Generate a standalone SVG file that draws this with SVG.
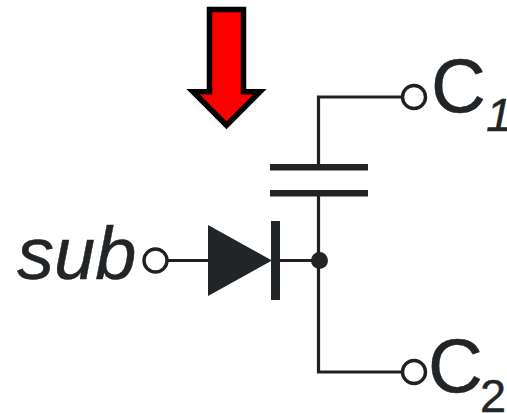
<svg xmlns="http://www.w3.org/2000/svg" width="507" height="413" viewBox="0 0 507 413">
<style>
.w{fill:none;stroke:#231f20;stroke-width:3.2}
.t{fill:#fff;stroke:#231f20;stroke-width:3.4}
.k{fill:#212527}
text{font-family:"Liberation Sans",Arial,sans-serif;fill:#212527;stroke:#212527;stroke-width:.4}
.i{font-style:italic}
</style>
<rect width="507" height="413" fill="#fff"/>
<g id="connectors">
<path class="w" d="M403 97H318.500V167"/>
<path class="w" d="M318.500 193V372H403"/>
<path class="w" d="M168 260.500H208"/>
<path class="w" d="M280 260.500H319"/>
</g>
<g id="arrow"><path d="M209.500 9.500H243.500V91.750H260L226.500 125.250L193 91.750H209.500Z" fill="#f00" stroke="#000" stroke-width="5.500" stroke-miterlimit="10"/></g>
<g id="capacitor">
<rect class="k" x="270" y="164" width="98" height="6.500"/>
<rect class="k" x="270" y="190" width="98" height="6.500"/>
</g>
<g id="diode">
<path class="k" d="M208 225L272 260.500L208 296Z"/>
<rect class="k" x="271" y="221" width="9" height="79"/>
</g>
<g id="junction"><circle class="k" cx="319.500" cy="260.500" r="8.500"/></g>
<g id="C1"><circle class="t" cx="414" cy="97" r="11.500"/>
<text x="431" y="112" font-size="76">C</text><text class="i" x="486" y="131" font-size="47">1</text></g>
<g id="C2"><circle class="t" cx="414" cy="372" r="11.500"/>
<text x="428" y="392" font-size="76">C</text><text x="480" y="412" font-size="47">2</text></g>
<g id="sub"><circle class="t" cx="155.500" cy="260.500" r="11.500"/>
<text class="i" x="17" y="279" font-size="74">sub</text></g>
</svg>
